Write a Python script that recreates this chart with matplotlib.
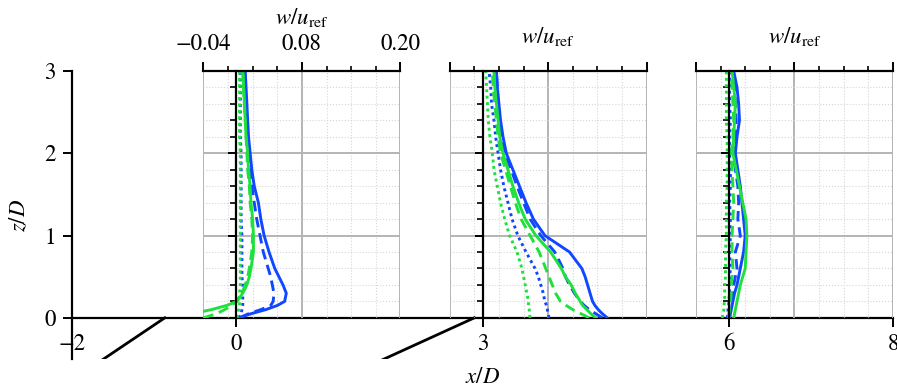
import matplotlib.pyplot as plt
import numpy as np

# Heights where the profiles are sampled (z/D)
z = [0.0, 0.05, 0.1, 0.15, 0.2, 0.3, 0.4, 0.5, 0.6, 0.8, 1.0,
     1.2, 1.4, 1.6, 1.8, 2.0, 2.2, 2.4, 2.6, 2.8, 3.0]

# Profile stations (x/D)
stations = [0, 3, 6]

# w/u_ref at x/D = 0
w0_blue_solid = [0.003, 0.018, 0.036, 0.050, 0.059, 0.061, 0.057, 0.052, 0.047, 0.040, 0.034,
                 0.030, 0.027, 0.022, 0.019, 0.017, 0.015, 0.014, 0.013, 0.012, 0.011]
w0_blue_dash = [0.004, 0.015, 0.030, 0.042, 0.045, 0.046, 0.044, 0.042, 0.039, 0.033, 0.029,
                0.025, 0.022, 0.019, 0.017, 0.016, 0.014, 0.013, 0.012, 0.011, 0.010]
w0_blue_dot = [0.003, 0.006, 0.007, 0.008, 0.008, 0.008, 0.008, 0.007, 0.007, 0.007, 0.007,
               0.006, 0.006, 0.006, 0.006, 0.006, 0.005, 0.005, 0.005, 0.005, 0.005]
w0_green_solid = [-0.080, -0.055, -0.030, -0.012, 0.001, 0.008, 0.013, 0.016, 0.018, 0.021, 0.021,
                  0.020, 0.018, 0.017, 0.015, 0.014, 0.012, 0.011, 0.010, 0.009, 0.008]
w0_green_dash = [-0.040, -0.024, -0.014, -0.006, 0.000, 0.007, 0.011, 0.014, 0.016, 0.019, 0.020,
                 0.019, 0.017, 0.016, 0.014, 0.013, 0.012, 0.011, 0.010, 0.009, 0.008]
w0_green_dot = [0.001, 0.002, 0.003, 0.004, 0.004, 0.004, 0.005, 0.005, 0.005, 0.005, 0.005,
                0.005, 0.005, 0.005, 0.005, 0.005, 0.004, 0.004, 0.004, 0.004, 0.004]

# w/u_ref at x/D = 3
w3_blue_solid = [0.152, 0.146, 0.141, 0.137, 0.134, 0.131, 0.128, 0.125, 0.121, 0.106, 0.076,
                 0.062, 0.053, 0.045, 0.037, 0.029, 0.025, 0.022, 0.020, 0.018, 0.017]
w3_blue_dash = [0.146, 0.138, 0.130, 0.124, 0.119, 0.112, 0.106, 0.101, 0.098, 0.088, 0.071,
                0.058, 0.050, 0.042, 0.035, 0.027, 0.024, 0.021, 0.019, 0.018, 0.017]
w3_blue_dot = [0.081, 0.080, 0.079, 0.078, 0.076, 0.074, 0.071, 0.068, 0.064, 0.053, 0.043,
               0.036, 0.031, 0.026, 0.022, 0.019, 0.016, 0.014, 0.011, 0.010, 0.008]
w3_green_solid = [0.138, 0.132, 0.127, 0.122, 0.119, 0.113, 0.108, 0.101, 0.096, 0.083, 0.065,
                  0.052, 0.044, 0.037, 0.031, 0.025, 0.021, 0.019, 0.017, 0.015, 0.014]
w3_green_dash = [0.130, 0.120, 0.110, 0.102, 0.095, 0.089, 0.085, 0.081, 0.077, 0.069, 0.058,
                 0.047, 0.040, 0.034, 0.028, 0.022, 0.019, 0.017, 0.015, 0.013, 0.012]
w3_green_dot = [0.058, 0.057, 0.057, 0.056, 0.056, 0.054, 0.052, 0.050, 0.048, 0.042, 0.033,
                0.027, 0.022, 0.018, 0.014, 0.012, 0.009, 0.007, 0.006, 0.005, 0.004]

# w/u_ref at x/D = 6
w6_blue_solid = [0.001, 0.002, 0.003, 0.004, 0.005, 0.007, 0.010, 0.012, 0.014, 0.018, 0.020,
                 0.018, 0.016, 0.014, 0.011, 0.008, 0.010, 0.013, 0.012, 0.010, 0.006]
w6_blue_dash = [0.001, 0.001, 0.002, 0.003, 0.003, 0.005, 0.006, 0.008, 0.010, 0.008, 0.014,
                0.011, 0.012, 0.011, 0.008, 0.006, 0.008, 0.009, 0.008, 0.007, 0.005]
w6_blue_dot = [-0.002, -0.001, -0.001, 0.000, 0.000, 0.001, 0.001, 0.001, 0.002, 0.001, 0.002,
               0.002, 0.001, 0.002, 0.002, 0.001, 0.001, 0.002, 0.001, 0.001, 0.001]
w6_green_solid = [0.006, 0.007, 0.008, 0.009, 0.010, 0.012, 0.014, 0.017, 0.020, 0.021, 0.022,
                  0.021, 0.017, 0.013, 0.009, 0.005, 0.006, 0.007, 0.008, 0.006, 0.004]
w6_green_dash = [0.000, 0.000, 0.001, 0.001, 0.002, 0.003, 0.003, 0.004, 0.005, 0.004, 0.004,
                 0.005, 0.006, 0.005, 0.004, 0.003, 0.005, 0.006, 0.005, 0.004, 0.003]
w6_green_dot = [-0.008, -0.007, -0.006, -0.006, -0.005, -0.005, -0.005, -0.004, -0.004, -0.004, -0.003,
                -0.003, -0.003, -0.002, -0.002, -0.002, -0.002, -0.003, -0.003, -0.003, -0.003]

# Two slanted guide lines under the axis, (x/D, z/D) end points
guide1_x = [-1.63, -0.87]
guide1_z = [-0.51, 0.0]
guide2_x = [1.78, 2.90]
guide2_z = [-0.51, 0.0]

profiles = [
    [w0_blue_solid, w0_blue_dash, w0_blue_dot, w0_green_solid, w0_green_dash, w0_green_dot],
    [w3_blue_solid, w3_blue_dash, w3_blue_dot, w3_green_solid, w3_green_dash, w3_green_dot],
    [w6_blue_solid, w6_blue_dash, w6_blue_dot, w6_green_solid, w6_green_dash, w6_green_dot],
]

blue = '#1048ff'
green = '#1fe03c'
dash = (0, (3.6, 2.0))
dot = (0, (1.0, 1.2))
styles = [(blue, '-'), (blue, dash), (blue, dot),
          (green, '-'), (green, dash), (green, dot)]

plt.rcParams['font.family'] = 'STIXGeneral'
plt.rcParams['mathtext.fontset'] = 'stix'
fs = 16.5

fig = plt.figure(figsize=(8.97, 3.9), dpi=100)
ax = fig.add_axes([72 / 897, 31 / 390, 821 / 897, 288 / 390])
ax.set_xlim(-2, 8)
ax.set_ylim(-0.5, 3)
ax.spines['top'].set_visible(False)
ax.spines['right'].set_visible(False)
ax.spines['bottom'].set_position(('data', 0))
for s in ['left', 'bottom']:
    ax.spines[s].set_linewidth(1.6)
ax.set_xticks([-2, 0, 3, 6, 8])
ax.set_yticks([0, 1, 2, 3])
ax.tick_params(direction='out', length=6.5, width=1.4, labelsize=fs, pad=5)
ax.set_xlabel('$x/D$', fontsize=fs, labelpad=8)
ax.set_ylabel('$z/D$', fontsize=fs, labelpad=10)

# Slanted guide lines
ax.plot(guide1_x, guide1_z, color='black', lw=2.0)
ax.plot(guide2_x, guide2_z, color='black', lw=2.0)

# One small axis per station, w scaled by 10 into x/D units
for i, x0 in enumerate(stations):
    ins = ax.inset_axes([x0 - 0.4, 0, 2.4, 3], transform=ax.transData)
    ins.set_xlim(-0.04, 0.20)
    ins.set_ylim(0, 3)
    ins.patch.set_alpha(0)
    ins.spines['bottom'].set_visible(False)
    ins.spines['right'].set_visible(False)
    ins.spines['left'].set_position(('data', 0))
    ins.spines['left'].set_linewidth(1.6)
    ins.spines['top'].set_linewidth(1.6)

    ins.set_xticks([-0.04, 0.08, 0.20])
    ins.set_xticks([-0.01, 0.02, 0.05, 0.11, 0.14, 0.17], minor=True)
    ins.set_yticks([1, 2])
    ins.set_yticks([0.2, 0.4, 0.6, 0.8, 1.2, 1.4, 1.6, 1.8,
                    2.2, 2.4, 2.6, 2.8], minor=True)
    ins.xaxis.set_ticks_position('top')
    ins.xaxis.set_label_position('top')
    ins.tick_params(axis='x', which='major', direction='out', length=6.5, width=1.4,
                    labelsize=fs, pad=5, labeltop=(i == 0))
    ins.tick_params(axis='x', which='minor', direction='out', length=3.5, width=1.2)
    ins.tick_params(axis='y', which='major', direction='out', length=5.5, width=1.4,
                    labelleft=False)
    ins.tick_params(axis='y', which='minor', direction='out', length=4.5, width=1.2)
    if i == 0:
        ins.set_xticklabels(['\u22120.04', '0.08', '0.20'])
        ins.set_xlabel(r'$w/u_{\mathrm{ref}}$', fontsize=fs, labelpad=7)
    else:
        ins.set_xlabel(r'$w/u_{\mathrm{ref}}$', fontsize=fs, labelpad=13)

    ins.grid(which='major', color='#b4b4b4', lw=1.4)
    ins.grid(which='minor', color='#d6d6d6', lw=0.8, linestyle=':')
    ins.set_axisbelow(True)

    for w, (c, ls) in zip(profiles[i], styles):
        ins.plot(w, z, color=c, linestyle=ls, lw=2.1)

plt.savefig('out.png', dpi=100)
